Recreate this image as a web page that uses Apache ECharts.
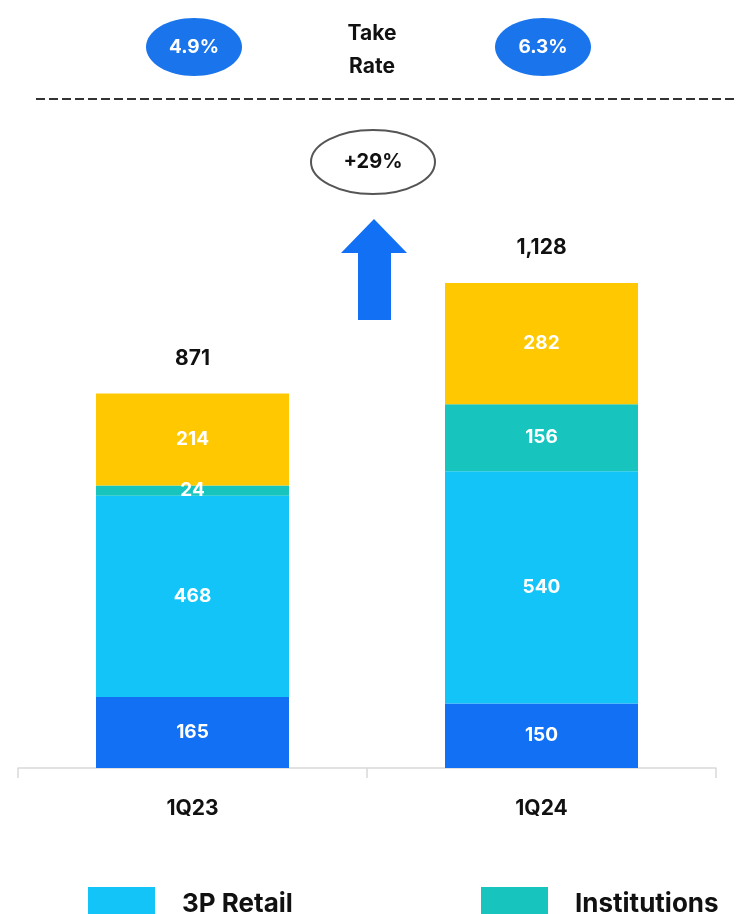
<!DOCTYPE html>
<html>
<head>
<meta charset="utf-8">
<script src="https://cdn.jsdelivr.net/npm/echarts@6/dist/echarts.min.js"></script>
<style>
  html, body { margin: 0; padding: 0; background: #fff; }
  #chart { width: 738px; height: 914px; }
</style>
</head>
<body>
<div id="chart"></div>
<script>
// Quarters on the category axis
const quarters = ['1Q23', '1Q24'];

// Stacked segments, bottom to top
const coreValues = [165, 150];
const retail3pValues = [468, 540];
const institutionValues = [24, 156];
const otherValues = [214, 282];

// Take rate per quarter, shown above the chart
const takeRates = ['4.9%', '6.3%'];
const growthLabel = '+29%';

const totals = quarters.map((_, i) =>
  coreValues[i] + retail3pValues[i] + institutionValues[i] + otherValues[i]);

const FONT = 'Inter, "Noto Sans", sans-serif';
const COLORS = {
  core: '#1170F4',
  retail: '#13C4F8',
  inst: '#17C5BE',
  other: '#FFC800',
  pill: '#1A74EC'
};

const chart = echarts.init(document.getElementById('chart'), null, { renderer: 'canvas' });

const innerLabel = {
  show: true,
  position: 'inside',
  color: '#fff',
  fontFamily: FONT,
  fontWeight: 'bold',
  fontSize: 19
};

function stackSeries(name, data, color) {
  return {
    name: name,
    type: 'bar',
    stack: 'total',
    data: data,
    barWidth: 193,
    itemStyle: { color: color },
    label: innerLabel,
    emphasis: { disabled: true }
  };
}

// Decorative header: take-rate pills, dashed divider, growth badge and arrow
const graphics = [
  {
    type: 'ellipse', shape: { cx: 194, cy: 47, rx: 48, ry: 29 },
    style: { fill: COLORS.pill }
  },
  {
    type: 'text', x: 194, y: 47,
    style: { text: takeRates[0], fill: '#fff', font: 'bold 19px ' + FONT, align: 'center', verticalAlign: 'middle' }
  },
  {
    type: 'ellipse', shape: { cx: 543, cy: 47, rx: 48, ry: 29 },
    style: { fill: COLORS.pill }
  },
  {
    type: 'text', x: 543, y: 47,
    style: { text: takeRates[1], fill: '#fff', font: 'bold 19px ' + FONT, align: 'center', verticalAlign: 'middle' }
  },
  {
    type: 'text', x: 372, y: 50,
    style: { text: 'Take\nRate', fill: '#111', font: 'bold 21px ' + FONT, lineHeight: 33, align: 'center', verticalAlign: 'middle' }
  },
  {
    type: 'line', shape: { x1: 36, y1: 99, x2: 738, y2: 99 },
    style: { stroke: '#333', lineWidth: 2, lineDash: [9, 4] }
  },
  {
    type: 'ellipse', shape: { cx: 373, cy: 162, rx: 62, ry: 32 },
    style: { fill: '#fff', stroke: '#555', lineWidth: 2 }
  },
  {
    type: 'text', x: 373, y: 162,
    style: { text: growthLabel, fill: '#111', font: 'bold 20px ' + FONT, align: 'center', verticalAlign: 'middle' }
  },
  {
    type: 'polygon',
    shape: { points: [[374, 219], [407, 253], [391, 253], [391, 320], [358, 320], [358, 253], [341, 253]] },
    style: { fill: COLORS.core }
  }
];

const legendText = {
  color: '#111', fontFamily: FONT, fontWeight: 'bold', fontSize: 26, padding: [0, 0, 0, 22]
};

const option = {
  animation: false,
  backgroundColor: '#fff',
  grid: { left: 18, right: 22, top: 80, bottom: 146, containLabel: false },
  xAxis: {
    type: 'category',
    data: quarters,
    axisLine: { lineStyle: { color: '#D9D9D9', width: 1.5 } },
    axisTick: { show: true, length: 10, lineStyle: { color: '#D9D9D9', width: 1.5 } },
    axisLabel: { color: '#111', fontFamily: FONT, fontWeight: 'bold', fontSize: 21, margin: 30 }
  },
  yAxis: {
    type: 'value',
    min: 0,
    max: 1600,
    show: false
  },
  legend: [
    {
      data: ['3P Retail'],
      left: 88, top: 887, padding: 0,
      icon: 'rect', itemWidth: 67, itemHeight: 34,
      selectedMode: false,
      textStyle: legendText
    },
    {
      data: ['Institutions'],
      left: 481, top: 887, padding: 0,
      icon: 'rect', itemWidth: 67, itemHeight: 34,
      selectedMode: false,
      textStyle: legendText
    }
  ],
  series: [
    stackSeries('Core', coreValues, COLORS.core),
    stackSeries('3P Retail', retail3pValues, COLORS.retail),
    stackSeries('Institutions', institutionValues, COLORS.inst),
    stackSeries('Other', otherValues, COLORS.other),
    {
      name: 'Total',
      type: 'scatter',
      data: totals,
      symbolSize: 1,
      itemStyle: { color: 'rgba(0,0,0,0)', opacity: 1 },
      label: {
        show: true,
        position: 'top',
        distance: 24,
        color: '#111',
        opacity: 1,
        fontFamily: FONT,
        fontWeight: 'bold',
        fontSize: 21,
        formatter: p => p.value.toLocaleString('en-US')
      },
      emphasis: { disabled: true },
      silent: true,
      z: 5
    }
  ],
  graphic: graphics
};

chart.setOption(option);
</script>
</body>
</html>
